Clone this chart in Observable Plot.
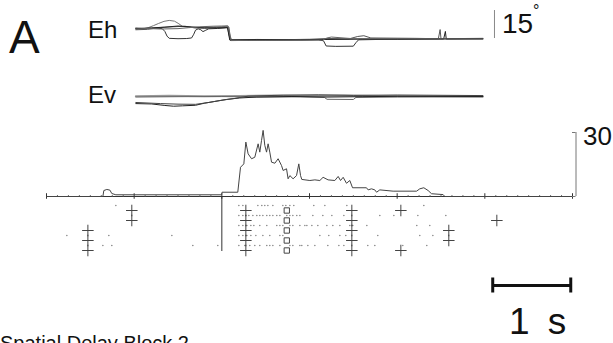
<!DOCTYPE html>
<html><head><meta charset="utf-8">
<script src="https://cdn.jsdelivr.net/npm/d3@7"></script>
<script src="https://cdn.jsdelivr.net/npm/@observablehq/plot@0.6"></script>
<style>
body{margin:0;background:#fff;}
#fig{position:relative;width:613px;height:343px;overflow:hidden;background:#fff;font-family:"Liberation Sans",Arial,Helvetica,sans-serif;color:#111;}
.lab{position:absolute;line-height:1;white-space:nowrap;}
</style></head><body><div id="fig"></div>
<script>
// ---------- time axis (ms, event at 0) ----------
const xDomain = [-2000, 4000];
const majorTicks = [-2000, -1000, 0, 1000, 2000, 3000, 4000];
const scaleBar = [3090, 3980];            // "1 s" bar
const scaleBarLabel = "1 s";

// ---------- horizontal eye position Eh (deg) : [t, deg] ----------
const ehT1 = [[-981,0.8],[-900,0.9],[-840,1.5],[-780,2.6],[-720,3.8],[-660,4.9],[-600,5.4],[-540,5.0],[-490,3.6],[-450,2.2],[-380,1.8],[-250,1.6],[-100,1.8],[0,2.0],[60,2.3],[75,-1.0],[95,-5.0],[200,-5.2],[400,-5.0],[700,-5.1],[1000,-4.9],[1300,-4.6],[1600,-4.5],[2000,-4.4],[2400,-4.3],[2977,-4.3]];
const ehT2 = [[-981,1.2],[-880,1.0],[-760,1.3],[-680,1.0],[-650,-0.5],[-625,-3.0],[-600,-4.2],[-500,-4.4],[-400,-4.3],[-345,-4.0],[-320,-2.0],[-300,0.2],[-270,0.9],[-240,0.4],[-215,-0.6],[-190,0.0],[-150,0.9],[-50,1.1],[40,1.4],[70,1.5],[85,-2.5],[100,-5.3],[500,-5.2],[1100,-5.0],[1160,-5.5],[1190,-8.3],[1300,-8.5],[1500,-8.4],[1530,-6.5],[1560,-5.0],[2000,-4.6],[2977,-4.4]];
const ehT3 = [[-981,0.4],[-850,0.6],[-700,1.6],[-550,2.0],[-420,2.3],[-300,1.3],[-200,1.2],[-60,1.6],[50,1.8],[80,1.9],[95,-3.0],[110,-5.0],[600,-5.0],[1000,-4.7],[1200,-4.3],[1450,-4.5],[1550,-3.2],[1620,-2.8],[1700,-4.0],[2200,-4.2],[2470,-4.4],[2490,0.5],[2500,-4.4],[2977,-4.2]];
const ehT4 = [[-981,1.0],[-800,1.4],[-650,1.8],[-500,2.4],[-350,1.9],[-200,1.4],[-50,1.3],[65,1.6],[90,-5.1],[400,-4.8],[900,-5.0],[1200,-4.8],[1600,-4.6],[2000,-4.8],[2530,-4.6],[2550,-0.5],[2560,-4.6],[2977,-4.5]];
const ehT5 = [[-981,1.3],[-700,0.8],[-500,1.0],[-380,1.5],[-250,2.0],[-100,2.3],[0,2.4],[70,2.5],[90,-2.0],[105,-5.4],[300,-5.3],[800,-5.2],[1150,-5.1],[1200,-4.0],[1250,-3.5],[1500,-4.4],[2000,-4.5],[2977,-4.6]];
const ehScale = [-4.3, 10.7];             // 15 deg bar
const ehScaleX = 3110;

// ---------- vertical eye position Ev (deg) ----------
const evT1 = [[-981,0.2],[-600,0.4],[-200,0.1],[200,0.3],[600,0.5],[1000,0.4],[1400,0.6],[1800,0.3],[2400,0.2],[2977,0.0]];
const evT2 = [[-981,-0.3],[-500,-0.1],[0,0.0],[400,-0.3],[900,-0.2],[1170,-0.5],[1200,-1.5],[1500,-1.6],[1530,-0.5],[2000,-0.3],[2977,-0.2]];
const evT3 = [[-981,-3.8],[-800,-4.0],[-650,-4.8],[-550,-5.2],[-450,-5.0],[-300,-4.7],[-200,-3.6],[-100,-2.8],[50,-1.6],[200,-0.8],[400,-0.3],[800,0.0],[1200,-0.3],[1600,-0.1],[2000,0.1],[2977,0.0]];
const evT4 = [[-981,-3.2],[-700,-3.8],[-500,-4.1],[-300,-4.2],[-150,-3.2],[0,-2.0],[150,-1.0],[300,0.2],[700,0.7],[1100,0.9],[1500,0.6],[2000,0.8],[2977,0.5]];

// ---------- spike density (spikes/s) ----------
const histT = [-1996,-1357,-1346,-1312,-1277,-1255,-1209,-2,2,182,213,251,274,300,339,376,414,433,453,471,490,510,528,547,567,605,642,681,699,738,756,776,813,852,878,898,912,1004,1061,1118,1155,1212,1289,1327,1354,1384,1422,1460,1491,1650,1669,1707,1745,1765,1802,1954,2221,2258,2304,2353,2392,2524,2544,4000];
const histV = [0,0,2.8,3.3,3.0,1.4,0.8,0.8,2.0,2.0,13.7,15.3,25.5,20,17.7,18.4,24.7,20.8,26.3,31,24,20.8,24.7,20.8,16.1,15.6,17.7,14.5,12.2,13,8.3,9.8,8.3,9.8,15.3,9.8,8.0,7.5,7.8,7.5,9.0,7.8,7.5,9.4,7.5,9.0,6.2,7.5,4.1,4.1,3.1,3.6,3.1,2.0,3.1,2.5,2.5,3.6,4.1,2.8,1.3,0.9,0,0];
const rateBar = 30;
const rateBarX = 4040;

// ---------- raster (ms) per trial ----------
const spikesTrial1 = [-1209,194,240,411,456,490,525,582,696,730,776,821,1049,1175,1426,2304];
const spikesTrial2 = [194,240,274,308,354,399,433,468,513,547,582,627,662,741,776,810,855,890,1038,1152,1255,1392,1802,1962,2236,2555];
const spikesTrial3 = [194,240,285,331,365,433,513,627,662,696,776,810,890,947,970,1027,1095,1198,1266,1346,1460,1494,1654,2224,2372];
const spikesTrial4 = [-1768,-1289,-570,194,240,285,331,388,468,547,662,696,1118,1220,1346,1414,1779,2258,2407];
const spikesTrial5 = [-1357,-1255,-331,-46,194,262,319,376,433,513,547,582,662,776,810,890,912,981,1061,1209,1335,1392,1665,1745,2064,2338];
const crossesTrial1 = [-1027,274,1483,2042];
const crossesTrial2 = [-1027,274,1483,3137];
const crossesTrial3 = [-1528,274,1483,2589];
const crossesTrial4 = [-1528,274,1483,2589];
const crossesTrial5 = [-1528,274,1483,2042];
const squareTimes = [741,741,741,741,741];

// ---------- labels ----------
const panelLabel = "A";
const ehLabel = "Eh", evLabel = "Ev";
const degLabel = "15", rateLabel = "30";
const caption = "Spatial Delay Block 2";

// ================= drawing =================
const fig = document.getElementById("fig");
function panel(top, height, y, marks) {
  const svg = Plot.plot({
    width: 613, height, marginLeft: 46, marginRight: 41, marginTop: 0, marginBottom: 0,
    x: {domain: xDomain, axis: null}, y: {...y, axis: null},
    style: {background: "transparent", overflow: "visible"},
    marks
  });
  svg.style.position = "absolute"; svg.style.left = "0px"; svg.style.top = top + "px";
  fig.appendChild(svg);
}
const px = d => d[0], py = d => d[1];
const lineCols = ["#777", "#333", "#555", "#222", "#666"];

// Eh
panel(0, 60, {domain: [-16.07, 16.07]}, [
  ...[ehT1, ehT2, ehT3, ehT4, ehT5].map((tr, i) => Plot.line(tr, {x: px, y: py, stroke: lineCols[i], strokeWidth: 1})),
  Plot.ruleX([ehScaleX], {y1: ehScale[0], y2: ehScale[1], stroke: "#888", strokeWidth: 1})
]);
// Ev
panel(70, 50, {domain: [-12.86, 13.93]}, [
  ...[evT1, evT2, evT3, evT4].map((tr, i) => Plot.line(tr, {x: px, y: py, stroke: ["#999", "#666", "#222", "#444"][i], strokeWidth: i === 0 ? 2 : 1}))
]);
// histogram + axis
const minorTicks = d3.range(xDomain[0], xDomain[1] + 1, 125).filter(t => !majorTicks.includes(t));
const hist = histT.map((t, i) => ({t, v: histV[i]}));
panel(120, 80, {domain: [-1.875, 35.63]}, [
  Plot.ruleY([0], {x1: xDomain[0], x2: xDomain[1], stroke: "#333", strokeWidth: 1}),
  Plot.ruleX(minorTicks, {y1: -0.4, y2: 0.4, stroke: "#555"}),
  Plot.ruleX(majorTicks, {y1: -1.3, y2: 1.3, stroke: "#333"}),
  Plot.line(hist, {x: "t", y: "v", stroke: "#444", strokeWidth: 1}),
  Plot.ruleX([rateBarX], {y1: 0, y2: rateBar, stroke: "#777"}),
  Plot.ruleY([0, rateBar], {x1: xDomain[1], x2: rateBarX, stroke: "#777"})
]);
// raster
const spikeTrials = [spikesTrial1, spikesTrial2, spikesTrial3, spikesTrial4, spikesTrial5];
const crossTrials = [crossesTrial1, crossesTrial2, crossesTrial3, crossesTrial4, crossesTrial5];
const spikes = spikeTrials.flatMap((a, i) => a.map(t => ({t, row: i + 0.5})));
const crosses = crossTrials.flatMap((a, i) => a.map(t => ({t, row: i + 1})));
const squares = squareTimes.map((t, i) => ({t, row: i + 1}));
panel(196, 60, {domain: [-0.4, 5.6], reverse: true}, [
  Plot.ruleX([0], {y1: -0.4, y2: 5.1, stroke: "#333"}),
  Plot.dot(spikes, {x: "t", y: "row", r: 0.8, fill: "#888", stroke: "none"}),
  Plot.dot(crosses, {x: "t", y: "row", symbol: "plus", r: 3.8, stroke: "#444", strokeWidth: 1}),
  Plot.dot(squares, {x: "t", y: "row", symbol: "square", r: 3, fill: "none", stroke: "#444", strokeWidth: 1})
]);
// scale bar
panel(270, 30, {domain: [0, 1]}, [
  Plot.ruleY([0.5], {x1: scaleBar[0], x2: scaleBar[1], stroke: "#111", strokeWidth: 3}),
  Plot.ruleX(scaleBar, {y1: 0.25, y2: 0.75, stroke: "#111", strokeWidth: 3})
]);

// text labels
function label(text, left, top, size, extra) {
  const d = document.createElement("div");
  d.className = "lab"; d.textContent = text;
  d.style.left = left + "px"; d.style.top = top + "px"; d.style.fontSize = size + "px";
  if (extra) Object.assign(d.style, extra);
  fig.appendChild(d);
}
label(panelLabel, 9, 14, 46);
label(ehLabel, 88, 18, 24);
label(evLabel, 88, 83, 24);
label(degLabel, 502, 10, 28);
label("°", 533, 3, 16);
label(rateLabel, 583, 123, 26);
label(scaleBarLabel, 509, 303, 37, {wordSpacing: "8px"});
label(caption, 0, 333, 20);
</script></body></html>
